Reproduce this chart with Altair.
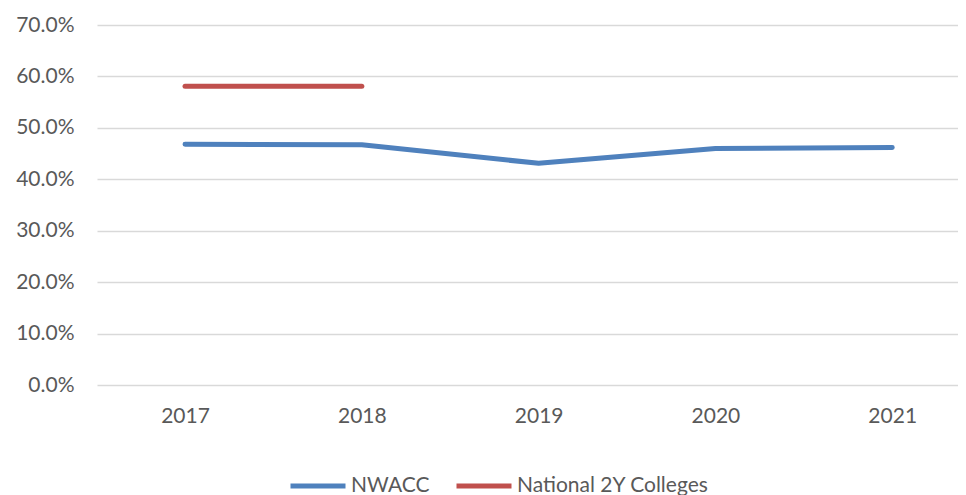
import altair as alt
import pandas as pd

years = [2017, 2018, 2019, 2020, 2021]
nwacc = [0.468, 0.467, 0.431, 0.460, 0.462]
national_years = [2017, 2018]
national = [0.581, 0.581]
series_names = ["NWACC", "National 2Y Colleges"]
colors = ["#4F81BD", "#C0504D"]

rows = [{"year": y, "value": v, "series": series_names[0]} for y, v in zip(years, nwacc)]
rows += [{"year": y, "value": v, "series": series_names[1]} for y, v in zip(national_years, national)]
df = pd.DataFrame(rows)

FONT = "Lato"
TXT = "#595959"

chart = alt.Chart(df).mark_line(strokeWidth=5, strokeCap="round", strokeJoin="round").encode(
    x=alt.X("year:Q", scale=alt.Scale(domain=[2016.502, 2021.372], nice=False, zero=False),
            axis=alt.Axis(title=None, labelAngle=0, domain=False, ticks=False, grid=False,
                          values=years, format="d",
                          labelPadding=20, labelFontSize=21, labelColor=TXT, labelFont=FONT)),
    y=alt.Y("value:Q", scale=alt.Scale(domain=[0, 0.7], nice=False),
            axis=alt.Axis(title=None, format=".1%", values=[0, 0.1, 0.2, 0.3, 0.4, 0.5, 0.6, 0.7],
                          domain=False, ticks=False, gridColor="#D9D9D9", gridWidth=1.5,
                          labelPadding=23, labelFontSize=21, labelColor=TXT, labelFont=FONT)),
    color=alt.Color("series:N", sort=series_names,
                    scale=alt.Scale(domain=series_names, range=colors),
                    legend=alt.Legend(title=None, orient="none", direction="horizontal",
                                      legendX=191, legendY=431,
                                      symbolType="stroke", symbolSize=3025, symbolStrokeWidth=5,
                                      labelFontSize=21, labelColor=TXT, labelFont=FONT,
                                      labelLimit=0, labelOffset=3, columnPadding=16)),
    detail="series:N",
).properties(
    width=861, height=360,
    autosize=alt.AutoSizeParams(type="none"),
    padding={"left": 89, "top": 17, "right": 0, "bottom": 110},
).configure_view(stroke=None)

chart.save("out.html", embed_options={"renderer": "svg", "actions": False})
